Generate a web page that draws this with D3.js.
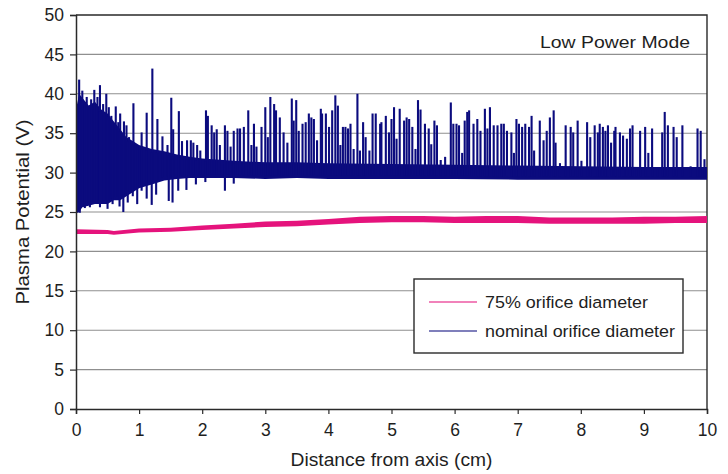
<!DOCTYPE html>
<html>
<head>
<meta charset="utf-8">
<script src="https://cdn.jsdelivr.net/npm/d3@7"></script>
<style>
  body { margin: 0; background: #fff; }
  text { font-family: "Liberation Sans", Arial, Helvetica, sans-serif; fill: #1e1e1e; }
</style>
</head>
<body>
<svg id="chart" width="728" height="474"></svg>
<script>
// Axis ticks
const xTickValues = [0, 1, 2, 3, 4, 5, 6, 7, 8, 9, 10];
const yTickValues = [0, 5, 10, 15, 20, 25, 30, 35, 40, 45, 50];

// Series names
const seriesNames = ["75% orifice diameter", "nominal orifice diameter"];
const panelLabel = "Low Power Mode";

// 75% orifice: trace band [distance cm, low V, high V]
const smallOrificeBand = [
  [0.0, 22.2, 22.8], [0.5, 22.2, 22.7], [0.6, 22.1, 22.6], [1.0, 22.4, 22.9],
  [1.5, 22.5, 23.0], [2.0, 22.7, 23.3], [2.5, 22.9, 23.5], [3.0, 23.1, 23.8],
  [3.5, 23.2, 23.9], [4.0, 23.4, 24.1], [4.5, 23.6, 24.4], [5.0, 23.7, 24.5],
  [5.5, 23.7, 24.5], [6.0, 23.6, 24.4], [6.5, 23.6, 24.5], [7.0, 23.6, 24.5],
  [7.5, 23.5, 24.3], [8.0, 23.5, 24.3], [8.5, 23.5, 24.3], [9.0, 23.5, 24.4],
  [9.5, 23.6, 24.4], [10.0, 23.6, 24.5]
];

// Nominal orifice: dense trace band [distance cm, low V, high V]
const nominalBand = [
  [0.00, 24.8, 38.0], [0.05, 25.0, 40.0], [0.10, 25.6, 39.5], [0.20, 25.8, 38.5],
  [0.30, 26.0, 39.0], [0.40, 26.0, 38.0], [0.50, 26.0, 37.5], [0.60, 26.5, 36.5],
  [0.70, 26.5, 35.5], [0.80, 27.0, 34.5], [0.90, 27.5, 34.0], [1.00, 28.0, 33.5],
  [1.20, 28.5, 33.0], [1.40, 29.0, 32.7], [1.60, 29.2, 32.3], [1.80, 29.3, 32.0],
  [2.00, 29.3, 31.8], [2.50, 29.3, 31.5], [3.00, 29.2, 31.3], [3.50, 29.3, 31.3],
  [4.00, 29.2, 31.2], [5.00, 29.2, 31.1], [6.00, 29.2, 31.0], [7.00, 29.1, 30.9],
  [8.00, 29.1, 30.8], [9.00, 29.1, 30.7], [10.00, 29.1, 30.7]
];

// Nominal orifice: upward spikes [distance cm, peak V]
const nominalSpikes = [
  [0.05, 41.8], [0.10, 40.4], [0.17, 39.6], [0.24, 39.3], [0.29, 40.5], [0.34, 39.6],
  [0.38, 41.1], [0.43, 38.7], [0.48, 40.0], [0.52, 38.3], [0.56, 37.2], [0.63, 38.4],
  [0.67, 36.4], [0.70, 37.5], [0.76, 36.5], [0.80, 36.0], [0.84, 34.5], [0.91, 38.8],
  [0.97, 33.5], [1.04, 35.1], [1.12, 37.6], [1.21, 43.2], [1.29, 36.8], [1.37, 34.6],
  [1.45, 33.5], [1.51, 39.5], [1.54, 35.5], [1.63, 37.8], [1.68, 34.0], [1.76, 34.1],
  [1.82, 34.1], [1.86, 33.8], [1.92, 33.5], [1.97, 32.8], [2.06, 37.9], [2.09, 37.2],
  [2.15, 36.0], [2.19, 35.1], [2.23, 35.5], [2.28, 33.5], [2.36, 36.0], [2.40, 35.3],
  [2.45, 33.3], [2.50, 35.3], [2.56, 35.6], [2.60, 35.6], [2.66, 35.8], [2.73, 37.9],
  [2.78, 33.5], [2.82, 36.2], [2.86, 33.3], [2.94, 35.8], [3.00, 38.3], [3.04, 34.5],
  [3.08, 39.6], [3.14, 38.7], [3.17, 37.9], [3.23, 37.0], [3.29, 35.1], [3.35, 33.8],
  [3.42, 39.4], [3.45, 36.6], [3.49, 39.2], [3.53, 35.3], [3.59, 36.2], [3.64, 36.4],
  [3.69, 37.5], [3.73, 37.0], [3.77, 36.8], [3.82, 34.1], [3.88, 38.1], [3.90, 37.5],
  [3.96, 37.5], [4.01, 35.8], [4.06, 37.9], [4.11, 39.8], [4.15, 38.5], [4.19, 33.5],
  [4.23, 35.8], [4.27, 35.8], [4.31, 35.6], [4.35, 36.2], [4.40, 33.0], [4.46, 40.0],
  [4.50, 32.8], [4.55, 36.4], [4.59, 34.5], [4.65, 32.8], [4.70, 37.5], [4.75, 37.5],
  [4.82, 36.2], [4.84, 36.4], [4.91, 37.2], [4.96, 35.1], [5.00, 36.8], [5.04, 38.3],
  [5.08, 34.3], [5.13, 38.1], [5.20, 36.6], [5.24, 37.0], [5.28, 36.8], [5.33, 35.8],
  [5.38, 33.0], [5.42, 39.2], [5.46, 38.0], [5.53, 36.2], [5.59, 35.6], [5.63, 33.6],
  [5.68, 36.6], [5.72, 36.0], [5.78, 31.6], [5.85, 32.0], [5.94, 38.9], [5.98, 36.2],
  [6.03, 36.2], [6.07, 36.0], [6.12, 32.5], [6.16, 36.6], [6.20, 37.7], [6.23, 37.9],
  [6.30, 36.2], [6.36, 36.8], [6.41, 35.3], [6.48, 38.1], [6.52, 35.6], [6.56, 38.3],
  [6.62, 36.0], [6.68, 36.0], [6.74, 36.2], [6.78, 36.2], [6.83, 35.3], [6.90, 35.1],
  [6.94, 32.5], [6.98, 36.8], [7.02, 36.2], [7.07, 35.8], [7.12, 36.2], [7.18, 35.8],
  [7.22, 37.2], [7.26, 32.8], [7.35, 36.6], [7.41, 34.1], [7.46, 35.3], [7.51, 37.0],
  [7.57, 37.9], [7.60, 33.8], [7.67, 31.2], [7.76, 36.0], [7.84, 35.8], [7.88, 35.1],
  [7.95, 36.6], [8.01, 31.5], [8.10, 36.4], [8.15, 34.5], [8.22, 36.0], [8.27, 35.1],
  [8.30, 36.2], [8.35, 35.8], [8.39, 35.3], [8.43, 36.0], [8.48, 33.8], [8.53, 35.3],
  [8.55, 35.8], [8.62, 35.1], [8.67, 34.7], [8.73, 34.3], [8.78, 35.6], [8.82, 36.0],
  [8.88, 30.4], [8.94, 35.3], [9.02, 35.8], [9.07, 32.5], [9.13, 35.6], [9.21, 30.4],
  [9.29, 35.1], [9.33, 37.7], [9.38, 36.0], [9.47, 35.8], [9.52, 34.5], [9.61, 36.0],
  [9.74, 30.8], [9.85, 35.6], [9.90, 35.3], [9.96, 31.7]
];

// Nominal orifice: downward spikes [distance cm, trough V]
const nominalDips = [
  [0.06, 24.9], [0.14, 25.5], [0.22, 25.6], [0.32, 26.2], [0.38, 25.6], [0.50, 25.4],
  [0.58, 26.0], [0.69, 25.7], [0.75, 25.0], [0.82, 26.2], [0.90, 27.0], [0.97, 26.0],
  [1.04, 27.7], [1.12, 26.7], [1.20, 25.9], [1.27, 27.2], [1.47, 26.4], [1.53, 26.2],
  [1.62, 27.7], [1.75, 27.8], [1.90, 28.5], [2.05, 28.8], [2.36, 27.7], [2.50, 28.6]
];

const colors = { small: "#e5137c", nominal: "#0b0b7e" };

const W = 728, H = 474;
const margin = { top: 15, right: 21, bottom: 65, left: 76 };
const innerW = W - margin.left - margin.right;
const innerH = H - margin.top - margin.bottom;

const svg = d3.select("#chart");
const g = svg.append("g").attr("transform", `translate(${margin.left},${margin.top})`);

const x = d3.scaleLinear().domain([0, 10]).range([0, innerW]);
const y = d3.scaleLinear().domain([0, 50]).range([innerH, 0]);

// Horizontal gridlines
g.append("g")
  .selectAll("line")
  .data(yTickValues.filter(v => v > 0 && v < 50))
  .join("line")
  .attr("x1", 0).attr("x2", innerW)
  .attr("y1", d => y(d)).attr("y2", d => y(d))
  .attr("stroke", "#8f8f8f").attr("stroke-width", 1.1);

// Frame: top and right edges
g.append("path")
  .attr("d", `M0,0H${innerW}V${innerH}`)
  .attr("fill", "none").attr("stroke", "#2a2a2a").attr("stroke-width", 1.4);

g.append("clipPath").attr("id", "plot-clip")
  .append("rect").attr("width", innerW).attr("height", innerH);
const plot = g.append("g").attr("clip-path", "url(#plot-clip)");

// 75% orifice trace
plot.append("path")
  .datum(smallOrificeBand)
  .attr("fill", colors.small)
  .attr("d", d3.area().x(d => x(d[0])).y0(d => y(d[1])).y1(d => y(d[2])));

// Nominal orifice trace: dense core band
plot.append("path")
  .datum(nominalBand)
  .attr("fill", colors.nominal)
  .attr("d", d3.area().x(d => x(d[0])).y0(d => y(d[1])).y1(d => y(d[2])));

const bandHigh = d3.scaleLinear().domain(nominalBand.map(d => d[0])).range(nominalBand.map(d => d[2]));
const bandLow = d3.scaleLinear().domain(nominalBand.map(d => d[0])).range(nominalBand.map(d => d[1]));

// Upward spikes
plot.append("g")
  .selectAll("line")
  .data(nominalSpikes)
  .join("line")
  .attr("x1", d => x(d[0])).attr("x2", d => x(d[0]))
  .attr("y1", d => y(bandLow(d[0]) + 0.4)).attr("y2", d => y(d[1]))
  .attr("stroke", colors.nominal).attr("stroke-width", 2.1);

// Downward spikes
plot.append("g")
  .selectAll("line")
  .data(nominalDips)
  .join("line")
  .attr("x1", d => x(d[0])).attr("x2", d => x(d[0]))
  .attr("y1", d => y(bandHigh(d[0]) - 0.4)).attr("y2", d => y(d[1]))
  .attr("stroke", colors.nominal).attr("stroke-width", 2.1);

// Axes
const xAxis = g.append("g")
  .attr("transform", `translate(0,${innerH})`)
  .call(d3.axisBottom(x).tickValues(xTickValues).tickFormat(d3.format("d")).tickSize(5).tickPadding(6));
const yAxis = g.append("g")
  .call(d3.axisLeft(y).tickValues(yTickValues).tickFormat(d3.format("d")).tickSize(6).tickPadding(6));

[xAxis, yAxis].forEach(a => {
  a.select(".domain").attr("stroke", "#2a2a2a").attr("stroke-width", 1.5);
  a.selectAll(".tick line").attr("stroke", "#2a2a2a").attr("stroke-width", 1.2);
  a.selectAll(".tick text")
    .attr("font-size", 17.5)
    .attr("fill", "#1e1e1e")
    .style("font-family", '"Liberation Sans", Arial, sans-serif');
});
xAxis.selectAll(".tick text").attr("dy", "0.9em");

// Axis titles
svg.append("text")
  .attr("x", margin.left + innerW / 2).attr("y", 466)
  .attr("text-anchor", "middle")
  .attr("font-size", 17.5)
  .attr("textLength", 202).attr("lengthAdjust", "spacingAndGlyphs")
  .text("Distance from axis (cm)");

svg.append("text")
  .attr("transform", `translate(29,${margin.top + innerH / 2}) rotate(-90)`)
  .attr("text-anchor", "middle")
  .attr("font-size", 17.5)
  .attr("textLength", 185).attr("lengthAdjust", "spacingAndGlyphs")
  .text("Plasma Potential (V)");

// Panel label
svg.append("text")
  .attr("x", 690).attr("y", 48)
  .attr("text-anchor", "end")
  .attr("font-size", 16.3)
  .attr("textLength", 150).attr("lengthAdjust", "spacingAndGlyphs")
  .text(panelLabel);

// Legend
const legend = svg.append("g").attr("transform", "translate(414,279)");
legend.append("rect")
  .attr("width", 269).attr("height", 74)
  .attr("fill", "#fff").attr("stroke", "#2a2a2a").attr("stroke-width", 1.4);
const legendItems = [
  { name: seriesNames[0], color: colors.small, width: 163 },
  { name: seriesNames[1], color: colors.nominal, width: 190 }
];
legendItems.forEach((item, i) => {
  const cy = 23 + i * 29;
  legend.append("line")
    .attr("x1", 15).attr("x2", 63).attr("y1", cy).attr("y2", cy)
    .attr("stroke", item.color).attr("stroke-width", 1.6).attr("stroke-opacity", 0.7);
  legend.append("text")
    .attr("x", 71).attr("y", cy + 6)
    .attr("font-size", 16.3)
    .attr("textLength", item.width).attr("lengthAdjust", "spacingAndGlyphs")
    .text(item.name);
});
</script>
</body>
</html>
